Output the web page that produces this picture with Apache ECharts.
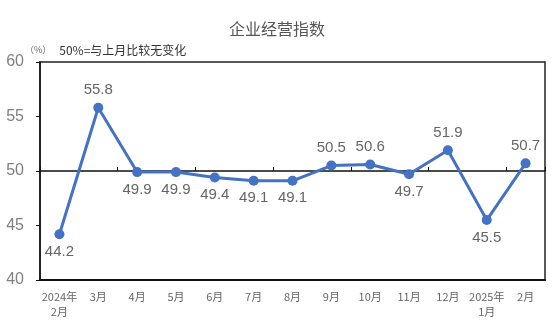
<!DOCTYPE html>
<html><head><meta charset="utf-8">
<script src="https://cdn.jsdelivr.net/npm/echarts@6/dist/echarts.min.js"></script>
<style>html,body{margin:0;padding:0;background:#fff}#c{width:554px;height:332px}</style>
</head><body><div id="c"></div>
<script>
const categories = ['2024年\n2月','3月','4月','5月','6月','7月','8月','9月','10月','11月','12月','2025年\n1月','2月'];
const values = [44.2, 55.8, 49.9, 49.9, 49.4, 49.1, 49.1, 50.5, 50.6, 49.7, 51.9, 45.5, 50.7];
const labelPos = ['bottom','top','bottom','bottom','bottom','bottom','bottom','top','top','bottom','top','bottom','top'];
const yTicks = [40, 45, 50, 55, 60];

const chart = echarts.init(document.getElementById('c'));
const font = '"Microsoft YaHei","Noto Sans CJK SC",sans-serif';
chart.setOption({
  animation: false,
  title: [
    {text: '企业经营指数', left: 'center', top: 16, textStyle: {fontSize: 16, fontWeight: 'normal', color: '#555', fontFamily: font}},
    {text: '{a|（%）}{b|50%=与上月比较无变化}', left: 20, top: 39,
     textStyle: {fontWeight: 'normal', rich: {
       a: {fontSize: 9, fontWeight: 'normal', color: '#666', fontFamily: font, padding: [0, 8, 0, 0]},
       b: {fontSize: 12, fontWeight: 'normal', color: '#333', fontFamily: font}
     }}}
  ],
  grid: [
    {left: 40, right: 9, top: 62, bottom: 52, show: true, borderColor: '#222', borderWidth: 1.5},
    {left: 40, right: 9, top: 62, height: 109}
  ],
  xAxis: [
    {gridIndex: 0, type: 'category', data: categories, boundaryGap: true,
     axisLine: {lineStyle: {color: '#111', width: 2}}, axisTick: {show: false},
     axisLabel: {color: '#666', fontSize: 11, fontFamily: font, margin: 9, interval: 0, lineHeight: 15}},
    {gridIndex: 1, type: 'category', data: categories, boundaryGap: true,
     axisLine: {lineStyle: {color: '#111', width: 1.5}},
     axisTick: {show: true, inside: true, length: 4, lineStyle: {color: '#111'}},
     axisLabel: {show: false}}
  ],
  yAxis: [
    {gridIndex: 0, type: 'value', min: 40, max: 60, interval: 5,
     axisLine: {show: true, lineStyle: {color: '#111', width: 1.5}},
     axisTick: {show: true, length: 4, lineStyle: {color: '#111'}},
     splitLine: {show: false},
     axisLabel: {color: '#808080', fontSize: 16, fontFamily: 'Arial,"Liberation Sans",sans-serif', margin: 16,
       formatter: v => yTicks.includes(v) ? String(v) : ''}},
    {gridIndex: 1, type: 'value', min: 50, max: 60, show: false}
  ],
  series: [{
    type: 'line', xAxisIndex: 0, yAxisIndex: 0,
    data: values.map((v, i) => ({value: v, label: {position: labelPos[i]}})),
    symbol: 'circle', symbolSize: 10,
    lineStyle: {color: '#4472C4', width: 3},
    itemStyle: {color: '#4472C4'},
    label: {show: true, color: '#666', fontSize: 15, fontFamily: 'Arial,"Liberation Sans",sans-serif', distance: 5}
  }]
});
</script></body></html>
